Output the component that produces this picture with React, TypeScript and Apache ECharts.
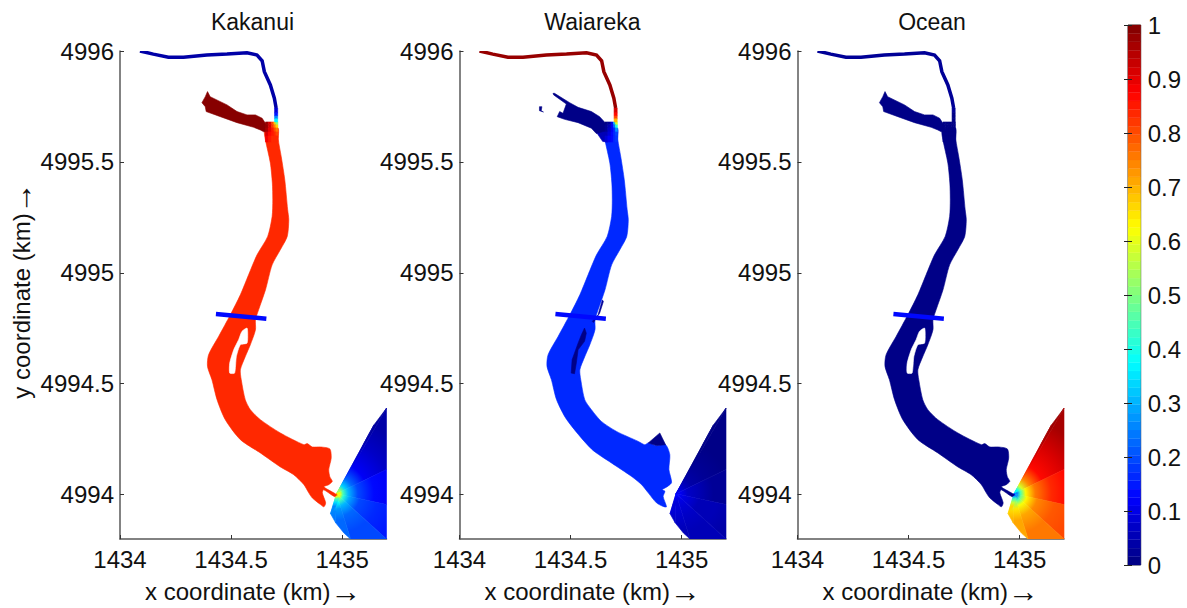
import React, { useEffect, useRef } from "react";
import * as echarts from "echarts";

type P = [number, number];

const TITLES = ["Kakanui", "Waiareka", "Ocean"];
const X_TICKS = [1434, 1434.5, 1435];
const Y_TICKS = [4994, 4994.5, 4995, 4995.5, 4996];
const BAR_TICKS = [0, 0.1, 0.2, 0.3, 0.4, 0.5, 0.6, 0.7, 0.8, 0.9, 1];

// Uniform fraction per panel: Kakanui, Waiareka, Ocean
const BODY_VALUES = [0.84, 0.17, 0.0];
const BRANCH_VALUES = [1.0, 0.0, 0.0];
const RIVER_VALUES = [0.04, 0.97, 0.03];
const CROSS_VALUES = [0.125, 0.125, 0.125];

const RIVER: P[] = [
  [1434.09, 4996.0], [1434.15, 4995.986], [1434.218, 4995.972], [1434.286, 4995.972],
  [1434.391, 4995.982], [1434.482, 4995.986], [1434.572, 4995.992], [1434.617, 4995.982],
  [1434.64, 4995.956], [1434.65, 4995.907], [1434.677, 4995.847], [1434.695, 4995.787],
  [1434.703, 4995.743],
];
const CROSS_SECTION: P[] = [[1434.432, 4994.814], [1434.659, 4994.793]];

const BRANCH: P[] = [
  [1434.394, 4995.817], [1434.406, 4995.794], [1434.482, 4995.757], [1434.527, 4995.727],
  [1434.572, 4995.712], [1434.61, 4995.712], [1434.64, 4995.697], [1434.659, 4995.667],
  [1434.66, 4995.636], [1434.647, 4995.636], [1434.632, 4995.644], [1434.602, 4995.656], [1434.527, 4995.677],
  [1434.452, 4995.704], [1434.388, 4995.727], [1434.384, 4995.749], [1434.369, 4995.767],
  [1434.384, 4995.794],
];
const BRANCH_WAI: P[] = [
  [1434.421, 4995.809], [1434.428, 4995.809], [1434.496, 4995.767], [1434.534, 4995.746],
  [1434.594, 4995.727], [1434.631, 4995.704], [1434.661, 4995.671], [1434.66, 4995.64], [1434.616, 4995.628],
  [1434.594, 4995.652], [1434.534, 4995.677], [1434.473, 4995.692], [1434.44, 4995.704],
  [1434.451, 4995.727], [1434.466, 4995.719], [1434.481, 4995.761], [1434.424, 4995.802],
];
const ELBOW_WAI: P[] = [[1434.618, 4995.631], [1434.66, 4995.655], [1434.668, 4995.59], [1434.645, 4995.592]];
const ISLET_WAI: P[] = [
  [1434.36, 4995.749], [1434.371, 4995.749], [1434.368, 4995.731], [1434.378, 4995.725], [1434.36, 4995.731],
];

const BODY_RIGHT: P[] = [
  [1434.711, 4995.653], [1434.713, 4995.599], [1434.726, 4995.524], [1434.742, 4995.419],
  [1434.755, 4995.284], [1434.76, 4995.239], [1434.753, 4995.164], [1434.722, 4995.104],
  [1434.685, 4995.036], [1434.655, 4994.923], [1434.624, 4994.833], [1434.61, 4994.788],
  [1434.61, 4994.743], [1434.587, 4994.676], [1434.564, 4994.622], [1434.542, 4994.563],
  [1434.546, 4994.518], [1434.564, 4994.428],
];
const BODY_LOWER: P[] = [
  [1434.587, 4994.383], [1434.632, 4994.338], [1434.722, 4994.278], [1434.828, 4994.225],
  [1434.843, 4994.23], [1434.866, 4994.215], [1434.903, 4994.215], [1434.945, 4994.206],
  [1434.951, 4994.165], [1434.94, 4994.113], [1434.945, 4994.08], [1434.956, 4994.06],
  [1434.94, 4994.045], [1434.918, 4994.035], [1434.975, 4994.0], [1434.966, 4993.991],
  [1434.917, 4994.022], [1434.911, 4994.008], [1434.926, 4993.963], [1434.918, 4993.945],
  [1434.903, 4993.955], [1434.866, 4993.985], [1434.85, 4994.008], [1434.828, 4994.045],
  [1434.782, 4994.09], [1434.722, 4994.125], [1434.632, 4994.188], [1434.542, 4994.248],
  [1434.474, 4994.338],
];
const BODY_LOWER_WAI: P[] = [
  [1434.594, 4994.383], [1434.639, 4994.33], [1434.707, 4994.285], [1434.805, 4994.24],
  [1434.834, 4994.225], [1434.85, 4994.233], [1434.887, 4994.221], [1434.928, 4994.225],
  [1434.947, 4994.18], [1434.943, 4994.113], [1434.955, 4994.055], [1434.937, 4994.037],
  [1434.913, 4994.022], [1434.925, 4994.015], [1434.917, 4993.992], [1434.932, 4993.945],
  [1434.917, 4993.947], [1434.887, 4993.963], [1434.85, 4994.008], [1434.82, 4994.045],
  [1434.775, 4994.082], [1434.684, 4994.143], [1434.594, 4994.206], [1434.483, 4994.338],
];
const BODY_LEFT: P[] = [
  [1434.437, 4994.428], [1434.414, 4994.518], [1434.394, 4994.578], [1434.399, 4994.631],
  [1434.444, 4994.713], [1434.497, 4994.811], [1434.542, 4994.901], [1434.579, 4994.991],
  [1434.617, 4995.081], [1434.665, 4995.164], [1434.685, 4995.254], [1434.688, 4995.329],
  [1434.686, 4995.405], [1434.677, 4995.495], [1434.655, 4995.599], [1434.652, 4995.64],
];
const ISLAND: P[] = [
  [1434.549, 4994.736], [1434.572, 4994.751], [1434.575, 4994.728], [1434.572, 4994.683],
  [1434.542, 4994.676], [1434.524, 4994.623], [1434.516, 4994.548], [1434.494, 4994.548],
  [1434.494, 4994.593], [1434.512, 4994.653], [1434.534, 4994.698],
];
const SLIVER_WAI: P[] = [
  [1434.563, 4994.751], [1434.571, 4994.728], [1434.563, 4994.691], [1434.534, 4994.653],
  [1434.526, 4994.593], [1434.518, 4994.545], [1434.503, 4994.548], [1434.507, 4994.608],
  [1434.534, 4994.683], [1434.549, 4994.721],
];
const STREAK_WAI: P[] = [
  [1434.643, 4994.878], [1434.624, 4994.811], [1434.598, 4994.781], [1434.603, 4994.776],
  [1434.631, 4994.818], [1434.648, 4994.871],
];
const BUMP_WAI: P[] = [
  [1434.85, 4994.233], [1434.902, 4994.278], [1434.928, 4994.225], [1434.887, 4994.221],
];

// River end strip just above the junction
const STRIP_X: [number, number] = [1434.696, 1434.71];
const STRIP_Y = [4995.743, 4995.721, 4995.707, 4995.694, 4995.68];
const STRIP_KAK = [0.08, 0.15, 0.25, 0.36];
const STRIP_WAI = [0.92, 0.87, 0.8, 0.7];
const STRIP_OCE = [0.02, 0.01, 0.0, 0.0];

// Junction of river, side branch and main reach: grid of cells (row, column)
const JUNCTION_X = [1434.655, 1434.668, 1434.682, 1434.693, 1434.702, 1434.711];
const JUNCTION_Y = [4995.68, 4995.667, 4995.653, 4995.635, 4995.617, 4995.59];
const JUNCTION_KAK = [
  [0.98, 0.92, 0.8, 0.68, 0.5],
  [0.98, 0.92, 0.82, 0.74, 0.66],
  [0.96, 0.9, 0.85, 0.8, 0.76],
  [0.92, 0.87, 0.85, 0.83, 0.8],
  [0.88, 0.85, 0.84, 0.84, 0.83],
];
const JUNCTION_WAI = [
  [0.01, 0.03, 0.1, 0.3, 0.58],
  [0.02, 0.05, 0.12, 0.22, 0.42],
  [0.03, 0.07, 0.12, 0.17, 0.27],
  [0.05, 0.09, 0.13, 0.16, 0.2],
  [0.08, 0.11, 0.14, 0.16, 0.18],
];
const JUNCTION_OCE = [
  [0, 0, 0, 0, 0.01],
  [0, 0, 0, 0, 0],
  [0, 0, 0, 0, 0],
  [0, 0, 0, 0, 0],
  [0, 0, 0, 0, 0],
];

// Sea fan: mouth, far boundary per sector, ring stops, and a fraction per sector and ring
const FAN_MOUTH: P = [1434.975, 4994.004];
const FAN_SECTORS: P[][] = [
  [[1435.024, 4994.045], [1435.046, 4994.075], [1435.061, 4994.135]],
  [[1435.061, 4994.135], [1435.099, 4994.233], [1435.144, 4994.315]],
  [[1435.144, 4994.315], [1435.2, 4994.39]],
  [[1435.2, 4994.39], [1435.2, 4994.113]],
  [[1435.2, 4994.113], [1435.2, 4993.955]],
  [[1435.2, 4993.955], [1435.2, 4993.8]],
  [[1435.2, 4993.8], [1435.038, 4993.8]],
  [[1435.038, 4993.8], [1435.008, 4993.827], [1434.971, 4993.873]],
  [[1434.971, 4993.873], [1434.948, 4993.914]],
  [[1434.948, 4993.914], [1434.971, 4993.947], [1434.986, 4993.985]],
];
const FAN_RINGS = [0.06, 0.12, 0.22, 0.4, 0.7, 1];
const FAN_KAK = [
  [0.7, 0.62, 0.47, 0.32, 0.2, 0.12],
  [0.62, 0.42, 0.28, 0.16, 0.08, 0.05],
  [0.5, 0.3, 0.17, 0.09, 0.04, 0.02],
  [0.52, 0.34, 0.22, 0.12, 0.07, 0.04],
  [0.62, 0.45, 0.3, 0.19, 0.13, 0.11],
  [0.6, 0.42, 0.29, 0.2, 0.16, 0.15],
  [0.62, 0.45, 0.31, 0.22, 0.19, 0.2],
  [0.68, 0.55, 0.38, 0.27, 0.22, 0.23],
  [0.7, 0.62, 0.47, 0.34, 0.26, 0.24],
  [0.72, 0.68, 0.58, 0.45, 0.34, 0.26],
];
const FAN_WAI = [
  [0.13, 0.12, 0.1, 0.07, 0.04, 0.02],
  [0.12, 0.09, 0.06, 0.03, 0.01, 0.0],
  [0.1, 0.06, 0.03, 0.01, 0.0, 0.0],
  [0.1, 0.07, 0.04, 0.02, 0.01, 0.0],
  [0.12, 0.1, 0.07, 0.05, 0.03, 0.02],
  [0.12, 0.1, 0.08, 0.06, 0.05, 0.04],
  [0.12, 0.1, 0.08, 0.07, 0.06, 0.05],
  [0.13, 0.11, 0.09, 0.08, 0.07, 0.06],
  [0.13, 0.12, 0.1, 0.09, 0.08, 0.07],
  [0.14, 0.13, 0.12, 0.1, 0.09, 0.08],
];
const FAN_OCE = [
  [0.17, 0.26, 0.43, 0.61, 0.76, 0.86],
  [0.26, 0.49, 0.66, 0.81, 0.91, 0.95],
  [0.4, 0.64, 0.8, 0.9, 0.96, 0.98],
  [0.38, 0.59, 0.74, 0.86, 0.92, 0.96],
  [0.26, 0.45, 0.63, 0.76, 0.84, 0.87],
  [0.28, 0.48, 0.63, 0.74, 0.79, 0.81],
  [0.26, 0.45, 0.61, 0.71, 0.75, 0.75],
  [0.19, 0.34, 0.53, 0.65, 0.71, 0.71],
  [0.17, 0.26, 0.43, 0.57, 0.66, 0.69],
  [0.14, 0.19, 0.3, 0.45, 0.57, 0.66],
];

const FONT = "'Liberation Sans', Arial, sans-serif";
const PANEL_LEFT = [120, 459.5, 797.5];
const TITLE_X = [252.5, 592.5, 932];
const PANEL_WIDTH = 266.5;
const LEVELS = 64;

function jet(v: number): string {
  const q = Math.min(LEVELS - 1, Math.max(0, Math.floor(v * LEVELS))) + 0.5;
  const t = q / LEVELS;
  const c = (a: number) => Math.round(255 * Math.min(1, Math.max(0, 1.5 - Math.abs(4 * t - a))));
  return `rgb(${c(3)},${c(2)},${c(1)})`;
}

type Item = { pts: P[]; v?: number; white?: boolean; line?: number; smooth?: number; fan?: number[] };

function panelItems(i: number): Item[] {
  const wai = i === 1;
  const lower = wai ? BODY_LOWER_WAI : BODY_LOWER;
  const items: Item[] = [];
  const fan = [FAN_KAK, FAN_WAI, FAN_OCE][i];
  FAN_SECTORS.forEach((edge, s) => items.push({ pts: [FAN_MOUTH, ...edge], fan: fan[s] }));
  items.push({ pts: [...BODY_RIGHT, ...lower, ...BODY_LEFT], v: BODY_VALUES[i], smooth: 0.25 });
  if (wai) {
    items.push({ pts: BUMP_WAI, v: 0.0 });
    items.push({ pts: SLIVER_WAI, v: 0.01 });
    items.push({ pts: STREAK_WAI, v: 0.03 });
    items.push({ pts: ELBOW_WAI, v: 0.06 });
    items.push({ pts: BRANCH_WAI, v: BRANCH_VALUES[i] });
    items.push({ pts: ISLET_WAI, v: BRANCH_VALUES[i] });
  } else {
    items.push({ pts: ISLAND, white: true, smooth: 0.2 });
    items.push({ pts: BRANCH, v: BRANCH_VALUES[i] });
  }
  const jv = [JUNCTION_KAK, JUNCTION_WAI, JUNCTION_OCE][i];
  jv.forEach((row, r) =>
    row.forEach((v, c) => {
      const [x0, x1, y0, y1] = [JUNCTION_X[c], JUNCTION_X[c + 1], JUNCTION_Y[r], JUNCTION_Y[r + 1]];
      items.push({ pts: [[x0, y0], [x1, y0], [x1, y1], [x0, y1]], v });
    })
  );
  const sv = [STRIP_KAK, STRIP_WAI, STRIP_OCE][i];
  sv.forEach((v, r) => {
    const [x0, x1] = STRIP_X;
    items.push({ pts: [[x0, STRIP_Y[r]], [x1, STRIP_Y[r]], [x1, STRIP_Y[r + 1]], [x0, STRIP_Y[r + 1]]], v });
  });
  items.push({ pts: RIVER, v: RIVER_VALUES[i], line: 3.5 });
  items.push({ pts: CROSS_SECTION, v: CROSS_VALUES[i], line: 4.5 });
  return items;
}

function axisName(text: string) {
  return `{t|${text}}{a|\u2192}`;
}
const NAME_RICH = {
  t: { fontFamily: FONT, fontSize: 24, lineHeight: 26, color: "#111" },
  a: { fontFamily: FONT, fontSize: 31, lineHeight: 26, color: "#111" },
};

function App() {
  const ref = useRef<HTMLDivElement>(null);
  useEffect(() => {
    document.body.style.margin = "0";
    const chart = echarts.init(ref.current!, null, { renderer: "svg" });
    const axisLine = { show: true, lineStyle: { color: "#5a5a5a", width: 1.5 } };
    const grids: any[] = PANEL_LEFT.map((left) => ({ left, top: 51, width: PANEL_WIDTH, height: 488, outerBoundsMode: "none" }));
    grids.push({ left: 1128, top: 25, width: 12.7, height: 540, show: true, borderColor: "#444", borderWidth: 1, backgroundColor: "transparent", outerBoundsMode: "none" });

    const labelBase = { show: true, fontFamily: FONT, fontSize: 24, color: "#111", formatter: (v: number) => String(v) };
    const xAxes: any[] = PANEL_LEFT.map((_, i) => ({
      type: "value", gridIndex: i, min: 1434, max: 1435.2, splitLine: { show: false },
      axisLine: { ...axisLine, onZero: false },
      axisTick: { show: true, inside: true, length: 4, customValues: X_TICKS, lineStyle: { color: "#333", width: 1 } },
      axisLabel: { ...labelBase, customValues: X_TICKS, margin: 8 },
      name: axisName("x coordinate (km)"), nameLocation: "middle", nameGap: 38,
      nameTextStyle: { rich: NAME_RICH },
    }));
    xAxes.push({ type: "value", gridIndex: 3, min: 0, max: 1, show: false });

    const yAxes: any[] = PANEL_LEFT.map((_, i) => ({
      type: "value", gridIndex: i, min: 4993.8, max: 4996, splitLine: { show: false },
      axisLine: { ...axisLine, onZero: false },
      axisTick: { show: true, inside: true, length: 4, customValues: Y_TICKS, lineStyle: { color: "#333", width: 1 } },
      axisLabel: { ...labelBase, customValues: Y_TICKS, margin: 6 },
      ...(i === 0
        ? {
            name: axisName("y coordinate (km)"), nameLocation: "middle", nameGap: 85,
            nameTextStyle: { rich: NAME_RICH, padding: [0, 0, 0, 9] },
          }
        : {}),
    }));
    yAxes.push({
      type: "value", gridIndex: 3, position: "right", min: 0, max: 1, splitLine: { show: false },
      axisLine: { show: false },
      axisTick: { show: true, inside: true, length: 4, customValues: BAR_TICKS, lineStyle: { color: "#222", width: 1 } },
      axisLabel: { ...labelBase, customValues: BAR_TICKS, margin: 7 },
      z: 5,
    });
    yAxes.push({
      type: "value", gridIndex: 3, position: "left", min: 0, max: 1, splitLine: { show: false },
      axisLine: { show: false },
      axisTick: { show: true, inside: true, length: 4, customValues: BAR_TICKS, lineStyle: { color: "#222", width: 1 } },
      axisLabel: { show: false },
      z: 5,
    });

    const series: any[] = PANEL_LEFT.map((_, i) => {
      const items = panelItems(i);
      return {
        type: "custom", xAxisIndex: i, yAxisIndex: i, silent: true, clip: true,
        data: items.map((_, k) => [k]),
        encode: { x: -1, y: -1 },
        renderItem: (params: any, api: any) => {
          const it = items[params.dataIndex];
          const points = it.pts.map((p) => api.coord(p));
          if (it.line) {
            return { type: "polyline", shape: { points }, style: { fill: "none", stroke: jet(it.v!), lineWidth: it.line } };
          }
          if (it.fan) {
            const m = points[0];
            const a = points[1];
            const b = points[points.length - 1];
            const r = (Math.hypot(a[0] - m[0], a[1] - m[1]) + Math.hypot(b[0] - m[0], b[1] - m[1])) / 2;
            const stops = [{ offset: 0, color: jet(it.fan[0]) }].concat(
              it.fan.map((v, k) => ({ offset: FAN_RINGS[k], color: jet(v) }))
            );
            const grad = { type: "radial", x: m[0], y: m[1], r, global: true, colorStops: stops };
            return { type: "polygon", shape: { points }, style: { fill: grad, stroke: grad, lineWidth: 0.6 } };
          }
          const color = it.white ? "#fff" : jet(it.v!);
          return {
            type: "polygon",
            shape: { points, smooth: it.smooth || 0 },
            style: { fill: color, stroke: color, lineWidth: 0.6 },
          };
        },
      };
    });
    const barLevels = Array.from({ length: LEVELS }, (_, k) => k);
    series.push({
      type: "custom", xAxisIndex: 3, yAxisIndex: 3, silent: true,
      data: barLevels.map((k) => [k]),
      encode: { x: -1, y: -1 },
      renderItem: (params: any, api: any) => {
        const k = params.dataIndex;
        const a = api.coord([0, k / LEVELS]);
        const b = api.coord([1, (k + 1) / LEVELS]);
        const color = jet((k + 0.5) / LEVELS);
        return {
          type: "rect",
          shape: { x: a[0], y: b[1], width: b[0] - a[0], height: a[1] - b[1] },
          style: { fill: color, stroke: color, lineWidth: 0.3 },
        };
      },
    });

    chart.setOption({
      animation: false,
      backgroundColor: "#fff",
      graphic: TITLES.map((text, i) => ({
        type: "text", x: TITLE_X[i], y: 22,
        style: { text, fontFamily: FONT, fontSize: 23, fill: "#111", textAlign: "center", textVerticalAlign: "middle" },
      })),
      grid: grids,
      xAxis: xAxes,
      yAxis: yAxes,
      series,
    });
    return () => chart.dispose();
  }, []);
  return <div ref={ref} style={{ position: "fixed", left: 0, top: 0, width: 1187, height: 608 }} />;
}

export default App;
